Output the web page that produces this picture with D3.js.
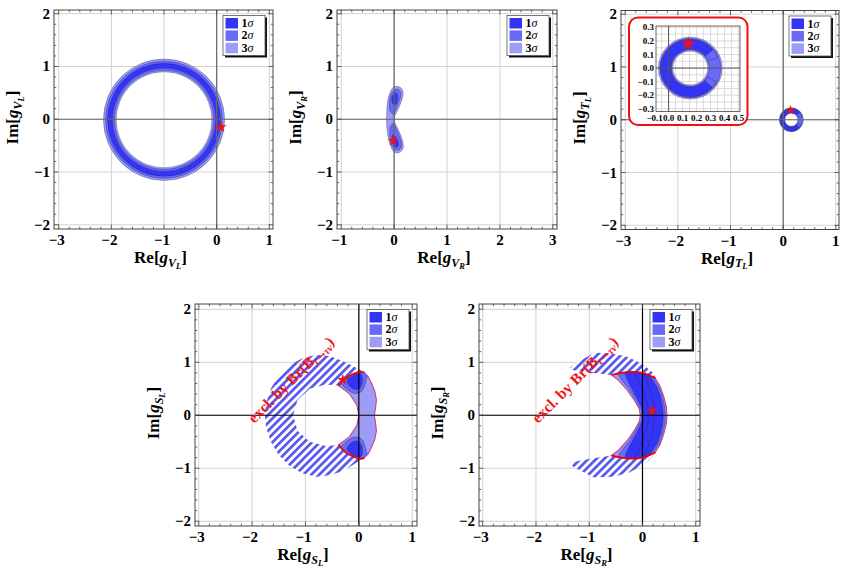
<!DOCTYPE html>
<html><head><meta charset="utf-8">
<script src="https://cdn.jsdelivr.net/npm/d3@7"></script>
<style>body{margin:0;background:#fff} svg{display:block}</style>
</head><body><svg id="chart" width="847" height="576"></svg>
<script>
// ---------------- data ----------------
const sigmaLevels = ["1", "2", "3"];
const xTicksA = [-3, -2, -1, 0, 1];
const xTicksB = [-1, 0, 1, 2, 3];
const yTicks = [-2, -1, 0, 1, 2];
const insetXTicks = [-0.1, 0, 0.1, 0.2, 0.3, 0.4, 0.5];
const insetYTicks = [-0.3, -0.2, -0.1, 0, 0.1, 0.2, 0.3];

// g_VL : ring, [inner, outer] radius for 3σ, 2σ, 1σ
const vlCenter = [-1.0, -0.01];
const vlRings = [[0.91, 1.15], [0.94, 1.11], [0.98, 1.07]];
const vlStar = [0.08, -0.15];

// g_VR : boomerang shaped region
const vrLevel3 = [[0.03,0.62],[0.12,0.6],[0.17,0.52],[0.15,0.38],[0.08,0.2],[0.01,0.05],[0.01,-0.05],[0.08,-0.2],[0.15,-0.38],[0.17,-0.55],[0.1,-0.63],[0.0,-0.62],[-0.06,-0.52],[-0.11,-0.35],[-0.14,-0.12],[-0.14,0.12],[-0.12,0.35],[-0.07,0.52],[-0.02,0.6]];
const vrLevel2 = [
  [[0.03,0.57],[0.1,0.55],[0.13,0.48],[0.1,0.35],[0.04,0.2],[-0.01,0.1],[-0.07,0.14],[-0.09,0.3],[-0.06,0.47]],
  [[-0.01,-0.08],[0.05,-0.2],[0.11,-0.35],[0.14,-0.5],[0.1,-0.58],[0.02,-0.58],[-0.05,-0.48],[-0.08,-0.3],[-0.07,-0.14]]
];
const vrLevel1 = [
  [[0.02,0.5],[0.06,0.47],[0.06,0.36],[0.02,0.27],[-0.03,0.3],[-0.04,0.42]],
  [[-0.02,-0.29],[0.04,-0.35],[0.08,-0.47],[0.05,-0.53],[0.0,-0.5],[-0.04,-0.4]]
];
const vrStar = [-0.02, -0.41];

// g_TL : small ring, full rings for 3σ, 2σ and a 1σ arc (angles in degrees, clockwise from top)
const tlCenter = [0.155, 0.0];
const tlRings = [[0.125, 0.228], [0.135, 0.218]];
const tlArc1 = { r: [0.142, 0.21], from: 132, to: 410 };
const tlArc2 = { r: [0.138, 0.214], from: 118, to: 428 };
const tlStar = [0.14, 0.18];

// g_SL : allowed region, excluded (hatched) region, 2σ / 1σ blobs, red Br(Bc->τν) boundaries
const slAllowed = [[-0.38,0.56],[-0.25,0.7],[-0.1,0.78],[0.02,0.82],[0.1,0.81],[0.18,0.72],[0.24,0.6],[0.3,0.45],[0.33,0.29],[0.31,0.12],[0.29,0],[0.31,-0.12],[0.33,-0.29],[0.3,-0.45],[0.24,-0.6],[0.18,-0.72],[0.1,-0.81],[0.02,-0.82],[-0.1,-0.78],[-0.25,-0.7],[-0.38,-0.56],[-0.18,-0.41],[-0.04,-0.2],[0,0],[-0.04,0.2],[-0.18,0.41]];
const slExcluded = [[0.1,0.81],[-0.04,0.89],[-0.29,1.02],[-0.55,1.12],[-0.79,1.14],[-1.05,1.08],[-1.29,0.95],[-1.5,0.75],[-1.65,0.5],[-1.74,0.22],[-1.76,0],[-1.74,-0.22],[-1.65,-0.5],[-1.5,-0.75],[-1.29,-0.96],[-1.05,-1.1],[-0.79,-1.16],[-0.55,-1.13],[-0.29,-1.05],[-0.04,-0.89],[0.1,-0.81],[0.02,-0.82],[-0.1,-0.78],[-0.25,-0.7],[-0.38,-0.56],[-0.62,-0.58],[-0.92,-0.5],[-1.15,-0.29],[-1.23,0],[-1.15,0.29],[-0.92,0.5],[-0.62,0.58],[-0.38,0.56],[-0.25,0.7],[-0.1,0.78],[0.02,0.82]];
const slLevel2 = [
  [[-0.34,0.62],[-0.2,0.76],[0.0,0.85],[0.14,0.82],[0.12,0.6],[0.05,0.45],[-0.08,0.41],[-0.2,0.47]],
  [[-0.34,-0.62],[-0.2,-0.76],[0.0,-0.85],[0.14,-0.82],[0.12,-0.6],[0.05,-0.45],[-0.08,-0.41],[-0.2,-0.47]]
];
const slLevel1 = [
  [[-0.22,0.64],[-0.1,0.75],[0.04,0.78],[0.06,0.6],[0.0,0.5],[-0.11,0.5]],
  [[-0.22,-0.64],[-0.1,-0.75],[0.04,-0.78],[0.06,-0.6],[0.0,-0.5],[-0.11,-0.5]]
];
const slRedArcs = [
  [[-0.38,0.56],[-0.25,0.7],[-0.1,0.78],[0.02,0.82],[0.1,0.81]],
  [[-0.38,-0.56],[-0.25,-0.7],[-0.1,-0.78],[0.02,-0.82],[0.1,-0.81]]
];
const slStar = [-0.3, 0.67];

// g_SR : crescent
const srAllowed = [[-0.58,0.76],[-0.4,0.8],[-0.2,0.82],[0.0,0.8],[0.24,0.7],[0.33,0.55],[0.4,0.35],[0.45,0.15],[0.46,0],[0.45,-0.15],[0.4,-0.35],[0.33,-0.55],[0.24,-0.7],[0.0,-0.8],[-0.2,-0.82],[-0.4,-0.8],[-0.58,-0.76],[-0.45,-0.66],[-0.29,-0.48],[-0.15,-0.28],[-0.06,-0.12],[-0.04,0],[-0.06,0.12],[-0.15,0.28],[-0.29,0.48],[-0.45,0.66]];
const srLevel2 = [[0.2,0.72],[0.31,0.54],[0.38,0.34],[0.42,0.15],[0.43,0],[0.42,-0.15],[0.38,-0.34],[0.31,-0.54],[0.2,-0.72],[0.0,-0.86],[-0.5,-0.86],[-0.42,-0.7],[-0.26,-0.5],[-0.12,-0.28],[-0.03,-0.1],[-0.01,0],[-0.03,0.1],[-0.12,0.28],[-0.26,0.5],[-0.42,0.7],[-0.5,0.86],[0.0,0.86]];
const srLevel1 = [[0.15,0.72],[0.27,0.54],[0.34,0.34],[0.38,0.15],[0.39,0],[0.38,-0.15],[0.34,-0.34],[0.27,-0.54],[0.15,-0.72],[0.0,-0.86],[-0.35,-0.86],[-0.3,-0.7],[-0.2,-0.5],[-0.08,-0.28],[0.0,-0.1],[0.02,0],[0.0,0.1],[-0.08,0.28],[-0.2,0.5],[-0.3,0.7],[-0.35,0.86],[0.0,0.86]];
// thin contour lines inside the 1σ crescent
const srContours = [
  [[-0.15,0.8],[-0.05,0.6],[0.05,0.35],[0.1,0.15],[0.11,0],[0.1,-0.15],[0.05,-0.35],[-0.05,-0.6],[-0.15,-0.8]],
  [[0.02,0.8],[0.1,0.6],[0.18,0.35],[0.22,0.15],[0.23,0],[0.22,-0.15],[0.18,-0.35],[0.1,-0.6],[0.02,-0.8]]
];
const srExcluded = [
  [[-1.36,0.9],[-1.2,1.02],[-0.89,1.18],[-0.6,1.17],[-0.33,1.12],[-0.1,1.02],[0.08,0.9],[0.21,0.79],[0.24,0.7],[0.0,0.8],[-0.2,0.82],[-0.4,0.8],[-0.58,0.76],[-0.9,0.8],[-1.3,0.85]],
  [[-1.36,-0.89],[-1.3,-0.97],[-0.92,-1.17],[-0.54,-1.16],[-0.25,-1.08],[-0.04,-0.97],[0.12,-0.85],[0.21,-0.75],[0.24,-0.7],[0.0,-0.8],[-0.2,-0.82],[-0.4,-0.8],[-0.58,-0.76],[-0.98,-0.82]]
];
const srRedArcs = [
  [[-0.58,0.76],[-0.4,0.8],[-0.2,0.82],[0.0,0.8],[0.24,0.7]],
  [[-0.58,-0.76],[-0.4,-0.8],[-0.2,-0.82],[0.0,-0.8],[0.24,-0.7]]
];
const srStar = [0.18, 0.09];
const exclLabelPos = [-1.2, 0.6];

// ---------------- styles ----------------
const sigmaColors = ["#3434f6", "#6a6af5", "#9d9df7"];
const edgeColor = "#23236a";
const serif = "'Liberation Serif','Times New Roman',serif";

const svg = d3.select("#chart");
const defs = svg.append("defs");
const hatch = defs.append("pattern").attr("id", "hatch")
  .attr("width", 5.6).attr("height", 5.6)
  .attr("patternUnits", "userSpaceOnUse")
  .attr("patternTransform", "rotate(45)");
hatch.append("rect").attr("width", 5.6).attr("height", 5.6).attr("fill", "#fff");
hatch.append("rect").attr("width", 2.7).attr("height", 5.6).attr("fill", "#5656ee");

let clipId = 0;

function panel(o) {
  const sx = d3.scaleLinear().domain(o.xd).range([o.left, o.right]);
  const sy = d3.scaleLinear().domain(o.yd).range([o.bottom, o.top]);
  const g = svg.append("g");
  const id = "clip" + (clipId++);
  defs.append("clipPath").attr("id", id).append("rect")
    .attr("x", o.left).attr("y", o.top)
    .attr("width", o.right - o.left).attr("height", o.bottom - o.top);

  // grid
  g.append("g").selectAll("line").data(o.xTicks).join("line")
    .attr("x1", d => sx(d)).attr("x2", d => sx(d)).attr("y1", o.top).attr("y2", o.bottom)
    .attr("stroke", "#d2d2d2").attr("stroke-width", 1);
  g.append("g").selectAll("line").data(yTicks).join("line")
    .attr("y1", d => sy(d)).attr("y2", d => sy(d)).attr("x1", o.left).attr("x2", o.right)
    .attr("stroke", "#d2d2d2").attr("stroke-width", 1);

  const plot = g.append("g").attr("clip-path", `url(#${id})`);
  const overlay = g.append("g");

  // axes at zero
  overlay.append("line").attr("x1", sx(0)).attr("x2", sx(0)).attr("y1", o.top).attr("y2", o.bottom)
    .attr("stroke", o.axisColor).attr("stroke-width", 1.2);
  overlay.append("line").attr("y1", sy(0)).attr("y2", sy(0)).attr("x1", o.left).attr("x2", o.right)
    .attr("stroke", o.axisColor).attr("stroke-width", 1.2);

  // frame
  g.append("rect").attr("x", o.left).attr("y", o.top)
    .attr("width", o.right - o.left).attr("height", o.bottom - o.top)
    .attr("fill", "none").attr("stroke", "#444").attr("stroke-width", 1);

  // ticks (major on integers, minor every 0.2), inside on all sides
  const tg = g.append("g").attr("stroke", "#444").attr("stroke-width", 0.8);
  sx.ticks(20).forEach(v => {
    const L = Number.isInteger(Math.round(v * 1e6) / 1e6) ? 4.5 : 2.3;
    tg.append("line").attr("x1", sx(v)).attr("x2", sx(v)).attr("y1", o.bottom).attr("y2", o.bottom - L);
    tg.append("line").attr("x1", sx(v)).attr("x2", sx(v)).attr("y1", o.top).attr("y2", o.top + L);
  });
  sy.ticks(20).forEach(v => {
    const L = Number.isInteger(Math.round(v * 1e6) / 1e6) ? 4.5 : 2.3;
    tg.append("line").attr("y1", sy(v)).attr("y2", sy(v)).attr("x1", o.left).attr("x2", o.left + L);
    tg.append("line").attr("y1", sy(v)).attr("y2", sy(v)).attr("x1", o.right).attr("x2", o.right - L);
  });

  const fmt = v => (v < 0 ? "\u2212" + Math.abs(v) : String(v));
  g.append("g").selectAll("text").data(o.xTicks).join("text")
    .attr("x", d => sx(d) - (d < 0 ? 2 : 0)).attr("y", o.bottom + 16)
    .attr("text-anchor", "middle").attr("font-family", serif).attr("font-weight", "bold")
    .attr("font-size", 15).text(fmt);
  g.append("g").selectAll("text").data(yTicks).join("text")
    .attr("x", o.left - 4).attr("y", d => sy(d) + 5)
    .attr("text-anchor", "end").attr("font-family", serif).attr("font-weight", "bold")
    .attr("font-size", 15).text(fmt);

  // axis labels
  const lab = (sel, pre) => {
    sel.attr("font-family", serif).attr("font-weight", "bold").attr("font-size", 17)
      .attr("text-anchor", "middle");
    sel.append("tspan").text(pre + "[");
    sel.append("tspan").attr("font-style", "italic").text("g");
    sel.append("tspan").attr("font-style", "italic").attr("font-size", 12).attr("dy", 3.5).text(o.sub[0]);
    sel.append("tspan").attr("font-style", "italic").attr("font-size", 8.5).attr("dy", 2).text(o.sub[1]);
    sel.append("tspan").attr("dy", -5.5).text("]");
  };
  lab(g.append("text").attr("x", (o.left + o.right) / 2 - 3).attr("y", o.bottom + 34), "Re");
  lab(g.append("text").attr("transform", `translate(${o.left - 36},${(o.top + o.bottom) / 2 - 2}) rotate(-90)`), "Im");

  return { sx, sy, plot, overlay, o };
}

function legend(p) {
  const x = p.o.right - 50, y = p.o.top + 5.5, w = 42, h = 40;
  const lg = svg.append("g");
  lg.append("rect").attr("x", x + 2).attr("y", y + 2).attr("width", w).attr("height", h).attr("fill", "#111");
  lg.append("rect").attr("x", x).attr("y", y).attr("width", w).attr("height", h)
    .attr("fill", "#fff").attr("stroke", "#555").attr("stroke-width", 0.8);
  sigmaLevels.forEach((s, i) => {
    const ry = y + 2.5 + i * 12.4;
    lg.append("rect").attr("x", x + 2.5).attr("y", ry).attr("width", 12.5).attr("height", 10.5)
      .attr("fill", sigmaColors[i]);
    const t = lg.append("text").attr("x", x + 18.5).attr("y", ry + 9)
      .attr("font-family", serif).attr("font-size", 12).attr("font-weight", "bold");
    t.append("tspan").text(s);
    t.append("tspan").attr("font-style", "italic").attr("font-weight", "normal").text("\u03c3");
  });
}

function star(p, pt, size) {
  p.overlay.append("path")
    .attr("d", d3.symbol().type(d3.symbolStar).size(size || 42)())
    .attr("transform", `translate(${p.sx(pt[0])},${p.sy(pt[1])})`)
    .attr("fill", "#f01010");
}

function polyPath(p, pts, curve) {
  return d3.line().x(d => p.sx(d[0])).y(d => p.sy(d[1])).curve(curve || d3.curveLinearClosed)(pts);
}

function region(p, parent, pts, fill, curve) {
  return parent.append("path").attr("d", polyPath(p, pts, curve))
    .attr("fill", fill).attr("stroke", edgeColor).attr("stroke-width", 0.6).attr("stroke-opacity", 0.6);
}

function ring(p, parent, center, r, fill, a0, a1) {
  const k = p.sx(1) - p.sx(0);
  const ky = (p.sy(0) - p.sy(1)) / k;
  const d = d3.arc().innerRadius(r[0] * k).outerRadius(r[1] * k)
    .startAngle((a0 || 0) * Math.PI / 180).endAngle((a1 === undefined ? 360 : a1) * Math.PI / 180)();
  parent.append("path").attr("d", d)
    .attr("transform", `translate(${p.sx(center[0])},${p.sy(center[1])}) scale(1,${ky})`)
    .attr("fill", fill).attr("stroke", edgeColor).attr("stroke-width", 0.6).attr("stroke-opacity", 0.6);
}

function exclLabel(p) {
  const t = p.overlay.append("text")
    .attr("transform", `translate(${p.sx(exclLabelPos[0])},${p.sy(exclLabelPos[1])}) rotate(-45)`)
    .attr("text-anchor", "middle").attr("font-family", serif).attr("font-weight", "bold")
    .attr("font-size", 15.5).attr("fill", "#f21414");
  t.append("tspan").text("excl. by Br(B");
  t.append("tspan").attr("font-size", 10.5).attr("dy", 3).attr("font-style", "italic").text("c");
  t.append("tspan").attr("font-size", 10.5).attr("font-family", "'DejaVu Serif',serif").text("\u2192");
  t.append("tspan").attr("font-size", 10.5).attr("font-style", "italic").text("\u03c4\u03bd");
  t.append("tspan").attr("dy", -3).text(")");
}

// ---------------- panel 1 : g_VL ----------------
const p1 = panel({ left: 54, right: 273, top: 10, bottom: 229, xd: [-3.09, 1.07], yd: [-2.08, 2.07],
  xTicks: xTicksA, sub: ["V", "L"], axisColor: "#666" });
vlRings.forEach((r, i) => ring(p1, p1.plot, vlCenter, r, sigmaColors[2 - i]));
star(p1, vlStar);
legend(p1);

// ---------------- panel 2 : g_VR ----------------
const p2 = panel({ left: 337, right: 557, top: 10, bottom: 229, xd: [-1.08, 3.08], yd: [-2.08, 2.07],
  xTicks: xTicksB, sub: ["V", "R"], axisColor: "#666" });
region(p2, p2.plot, vrLevel3, sigmaColors[2], d3.curveCatmullRomClosed);
vrLevel2.forEach(s => region(p2, p2.plot, s, sigmaColors[1], d3.curveCatmullRomClosed));
vrLevel1.forEach(s => region(p2, p2.plot, s, sigmaColors[0], d3.curveCatmullRomClosed));
star(p2, vrStar, 36);
legend(p2);

// ---------------- panel 3 : g_TL ----------------
const p3 = panel({ left: 621, right: 839, top: 10.5, bottom: 229.5, xd: [-3.08, 1.06], yd: [-2.08, 2.07],
  xTicks: xTicksA, sub: ["T", "L"], axisColor: "#666" });
function drawTL(p, parent) {
  tlRings.forEach((r, i) => ring(p, parent, tlCenter, r, sigmaColors[2 - i]));
  ring(p, parent, tlCenter, tlArc2.r, sigmaColors[1], tlArc2.from, tlArc2.to);
  ring(p, parent, tlCenter, tlArc1.r, sigmaColors[0], tlArc1.from, tlArc1.to);
}
drawTL(p3, p3.plot);
star(p3, tlStar, 30);
legend(p3);

// inset
(function () {
  const box = { left: 656, right: 740, top: 26, bottom: 111.5 };
  svg.append("rect").attr("x", 629).attr("y", 17.5).attr("width", 118.5).attr("height", 107.5)
    .attr("rx", 9).attr("fill", "#fff").attr("stroke", "#f01010").attr("stroke-width", 2);
  const sx = d3.scaleLinear().domain([-0.09, 0.51]).range([box.left, box.right]);
  const sy = d3.scaleLinear().domain([-0.32, 0.31]).range([box.bottom, box.top]);
  const g = svg.append("g");
  defs.append("clipPath").attr("id", "clipInset").append("rect")
    .attr("x", box.left).attr("y", box.top).attr("width", box.right - box.left).attr("height", box.bottom - box.top);
  const gridX = sx.ticks(12), gridY = sy.ticks(12);
  g.append("g").selectAll("line").data(gridX).join("line")
    .attr("x1", d => sx(d)).attr("x2", d => sx(d)).attr("y1", box.top).attr("y2", box.bottom)
    .attr("stroke", "#d0d0d0").attr("stroke-width", 0.8);
  g.append("g").selectAll("line").data(gridY).join("line")
    .attr("y1", d => sy(d)).attr("y2", d => sy(d)).attr("x1", box.left).attr("x2", box.right)
    .attr("stroke", "#d0d0d0").attr("stroke-width", 0.8);
  const plot = g.append("g").attr("clip-path", "url(#clipInset)");
  const overlay = g.append("g");
  const ip = { sx, sy, plot, overlay };
  drawTL(ip, plot);
  overlay.append("line").attr("x1", sx(0)).attr("x2", sx(0)).attr("y1", box.top).attr("y2", box.bottom)
    .attr("stroke", "#555").attr("stroke-width", 1);
  overlay.append("line").attr("y1", sy(0)).attr("y2", sy(0)).attr("x1", box.left).attr("x2", box.right)
    .attr("stroke", "#555").attr("stroke-width", 1);
  g.append("rect").attr("x", box.left).attr("y", box.top).attr("width", box.right - box.left)
    .attr("height", box.bottom - box.top).attr("fill", "none").attr("stroke", "#444").attr("stroke-width", 0.8);
  star(ip, tlStar, 60);
  const fmt = v => (v < 0 ? "\u2212" : "") + Math.abs(v).toFixed(1);
  g.append("g").selectAll("text").data(insetXTicks).join("text")
    .attr("x", d => sx(d)).attr("y", box.bottom + 9).attr("text-anchor", "middle")
    .attr("font-family", serif).attr("font-weight", "bold").attr("font-size", 9).text(fmt);
  g.append("g").selectAll("text").data(insetYTicks).join("text")
    .attr("x", box.left - 2).attr("y", d => sy(d) + 3).attr("text-anchor", "end")
    .attr("font-family", serif).attr("font-weight", "bold").attr("font-size", 9).text(fmt);
})();

// ---------------- panel 4 : g_SL ----------------
const p4 = panel({ left: 195, right: 417, top: 304, bottom: 526, xd: [-3.07, 1.09], yd: [-2.09, 2.1],
  xTicks: xTicksA, sub: ["S", "L"], axisColor: "#000" });
defs.append("clipPath").attr("id", "slClip").append("path").attr("d", polyPath(p4, slAllowed));
p4.plot.append("path").attr("d", polyPath(p4, slExcluded)).attr("fill", "url(#hatch)");
region(p4, p4.plot, slAllowed, sigmaColors[2]).attr("stroke", "#c8408a").attr("stroke-width", 1.1).attr("stroke-opacity", 1);
const slInner = p4.plot.append("g").attr("clip-path", "url(#slClip)");
slLevel2.forEach(s => region(p4, slInner, s, sigmaColors[1], d3.curveCatmullRomClosed));
slLevel1.forEach(s => region(p4, slInner, s, sigmaColors[0], d3.curveCatmullRomClosed));
slRedArcs.forEach(a => p4.overlay.append("path").attr("d", polyPath(p4, a, d3.curveCatmullRom))
  .attr("fill", "none").attr("stroke", "#ee0000").attr("stroke-width", 1.8));
star(p4, slStar, 40);
exclLabel(p4);
legend(p4);

// ---------------- panel 5 : g_SR ----------------
const p5 = panel({ left: 479, right: 700, top: 304, bottom: 526, xd: [-3.07, 1.08], yd: [-2.09, 2.1],
  xTicks: xTicksA, sub: ["S", "R"], axisColor: "#000" });
defs.append("clipPath").attr("id", "srClip").append("path").attr("d", polyPath(p5, srAllowed));
srExcluded.forEach(s => p5.plot.append("path").attr("d", polyPath(p5, s)).attr("fill", "url(#hatch)"));
region(p5, p5.plot, srAllowed, sigmaColors[2]).attr("stroke", "#c8408a").attr("stroke-width", 1.1).attr("stroke-opacity", 1);
const srInner = p5.plot.append("g").attr("clip-path", "url(#srClip)");
region(p5, srInner, srLevel2, sigmaColors[1]);
region(p5, srInner, srLevel1, sigmaColors[0]);
srContours.forEach(c => srInner.append("path").attr("d", polyPath(p5, c, d3.curveCatmullRom))
  .attr("fill", "none").attr("stroke", edgeColor).attr("stroke-width", 0.6).attr("stroke-opacity", 0.6));
srRedArcs.forEach(a => p5.overlay.append("path").attr("d", polyPath(p5, a, d3.curveCatmullRom))
  .attr("fill", "none").attr("stroke", "#ee0000").attr("stroke-width", 1.8));
star(p5, srStar, 40);
exclLabel(p5);
legend(p5);
</script>
</body></html>
